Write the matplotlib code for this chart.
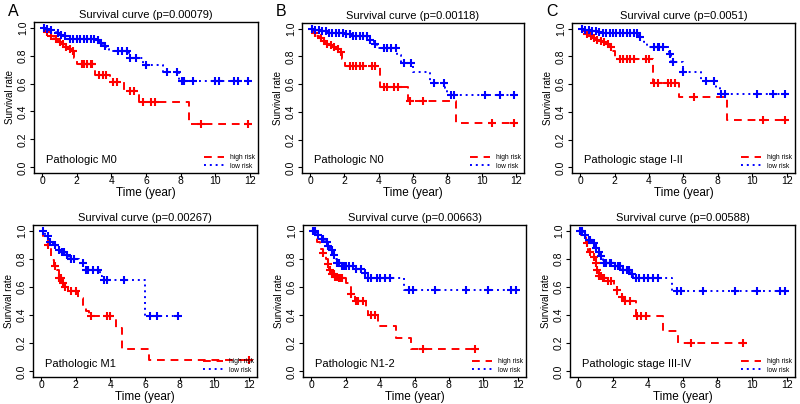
import numpy as np
import matplotlib
matplotlib.use("Agg")
import matplotlib.pyplot as plt

plt.rcParams['font.family'] = ['Liberation Sans', 'DejaVu Sans']

# ---- data: step times / survival after each step / censor times / end time ----
titles = ["Survival curve (p=0.00079)", "Survival curve (p=0.00118)", "Survival curve (p=0.0051)",
          "Survival curve (p=0.00267)", "Survival curve (p=0.00663)", "Survival curve (p=0.00588)"]
groups = ["Pathologic M0", "Pathologic N0", "Pathologic stage I-II",
          "Pathologic M1", "Pathologic N1-2", "Pathologic stage III-IV"]
letters = ["A", "B", "C", "", "", ""]

# A  M0
a_hi_t = [0, 0.1, 0.2, 0.35, 0.5, 0.7, 0.9, 1.1, 1.3, 1.5, 1.7, 1.85, 2.0, 3.05, 3.9, 4.7, 5.6, 8.5]
a_hi_s = [1.0, 0.98, 0.97, 0.96, 0.94, 0.92, 0.90, 0.88, 0.86, 0.85, 0.83, 0.78, 0.74, 0.66, 0.61, 0.55, 0.47, 0.31]
a_hi_c = [0.3, 0.5, 0.8, 1.0, 1.2, 1.4, 1.6, 1.8, 2.3, 2.4, 2.6, 2.8, 2.9, 3.3, 3.5, 3.7, 4.1, 4.3,
          5.1, 5.3, 5.8, 6.3, 6.5, 9.2, 11.9]
a_hi_end = 11.9
a_lo_t = [0, 0.2, 0.4, 0.6, 0.8, 1.0, 1.2, 1.4, 3.1, 3.3, 3.5, 3.7, 3.85, 5.0, 5.8, 7.0, 7.9]
a_lo_s = [1.0, 0.99, 0.98, 0.97, 0.96, 0.95, 0.94, 0.92, 0.91, 0.89, 0.87, 0.85, 0.83, 0.785, 0.73, 0.68, 0.62]
a_lo_c = [0.1, 0.3, 0.5, 0.9, 1.1, 1.3, 1.6, 1.8, 2.0, 2.2, 2.4, 2.6, 2.8, 3.0, 3.2, 3.4, 3.6, 4.4, 4.6,
          4.9, 5.1, 5.4, 6.0, 7.2, 7.8, 8.1, 8.2, 8.7, 10.0, 10.2, 11.1, 11.3, 11.9]
a_lo_end = 11.9

# B  N0
b_hi_t = [0, 0.1, 0.2, 0.35, 0.5, 0.7, 0.9, 1.1, 1.3, 1.5, 1.7, 1.85, 2.05, 4.1, 5.7, 8.5]
b_hi_s = [1.0, 0.98, 0.97, 0.95, 0.93, 0.91, 0.89, 0.88, 0.87, 0.85, 0.83, 0.78, 0.73, 0.58, 0.48, 0.32]
b_hi_c = [0.3, 0.6, 0.8, 1.0, 1.2, 1.4, 1.6, 1.8, 2.3, 2.5, 2.7, 2.9, 3.1, 3.6, 3.8, 4.3, 4.5,
          4.9, 5.1, 5.8, 6.6, 10.6, 11.9]
b_hi_end = 11.9
b_lo_t = [0, 0.3, 0.6, 1.0, 2.0, 2.5, 3.4, 3.7, 3.9, 5.05, 5.3, 6.0, 7.0, 7.85, 8.0]
b_lo_s = [1.0, 0.99, 0.98, 0.97, 0.96, 0.95, 0.92, 0.89, 0.86, 0.81, 0.75, 0.69, 0.61, 0.57, 0.52]
b_lo_c = [0.1, 0.3, 0.5, 0.7, 0.9, 1.1, 1.3, 1.5, 1.7, 1.9, 2.1, 2.3, 2.5, 2.7, 2.9, 3.1, 3.3, 3.5,
          3.8, 4.3, 4.5, 4.7, 5.0, 5.5, 5.9, 7.2, 7.8, 8.2, 8.4, 10.2, 11.1, 11.9]
b_lo_end = 11.9

# C  stage I-II
c_hi_t = [0, 0.15, 0.3, 0.5, 0.7, 0.9, 1.1, 1.3, 1.5, 1.7, 1.85, 2.0, 4.2, 5.75, 8.55]
c_hi_s = [1.0, 0.98, 0.96, 0.95, 0.93, 0.92, 0.91, 0.90, 0.89, 0.87, 0.84, 0.78, 0.61, 0.51, 0.34]
c_hi_c = [0.4, 0.6, 0.8, 1.0, 1.2, 1.4, 1.6, 1.8, 2.3, 2.5, 2.7, 2.9, 3.1, 3.8, 4.0, 4.3, 4.5,
          5.1, 5.3, 5.5, 6.6, 10.6, 11.9]
c_hi_end = 11.9
c_lo_t = [0, 0.3, 0.6, 1.0, 1.3, 3.4, 3.7, 3.9, 5.15, 5.3, 6.0, 7.0, 7.9, 8.1]
c_lo_s = [1.0, 0.99, 0.98, 0.975, 0.97, 0.94, 0.90, 0.87, 0.82, 0.76, 0.69, 0.62, 0.57, 0.53]
c_lo_c = [0.1, 0.3, 0.5, 0.7, 0.9, 1.1, 1.3, 1.5, 1.7, 1.9, 2.1, 2.3, 2.5, 2.7, 2.9, 3.1, 3.3, 3.5,
          4.3, 4.5, 4.6, 4.8, 5.2, 5.4, 6.0, 7.3, 7.8, 8.2, 8.4, 10.3, 11.2, 11.9]
c_lo_end = 11.9

# D  M1
d_hi_t = [0, 0.1, 0.4, 0.55, 0.75, 0.9, 1.05, 1.2, 1.3, 1.55, 2.15, 2.4, 2.6, 2.75, 4.3, 4.65, 6.25]
d_hi_s = [1.0, 0.96, 0.90, 0.79, 0.75, 0.72, 0.66, 0.63, 0.60, 0.57, 0.52, 0.47, 0.43, 0.39, 0.31, 0.16, 0.08]
d_hi_c = [0.4, 0.8, 1.05, 1.15, 1.25, 1.4, 1.7, 2.0, 2.85, 3.8, 4.0, 12.0]
d_hi_end = 12.0
d_lo_t = [0, 0.2, 0.5, 0.7, 0.9, 1.0, 1.2, 1.4, 1.6, 2.2, 2.6, 3.4, 3.5, 6.0]
d_lo_s = [1.0, 0.96, 0.92, 0.90, 0.88, 0.86, 0.85, 0.83, 0.80, 0.77, 0.72, 0.68, 0.65, 0.39]
d_lo_c = [0.1, 0.4, 0.5, 0.8, 1.0, 1.2, 1.3, 1.5, 1.7, 1.9, 2.4, 2.6, 2.7, 3.0, 3.3, 3.6, 3.8,
          4.8, 6.3, 6.7, 7.9]
d_lo_end = 7.9

# E  N1-2
e_hi_t = [0, 0.2, 0.35, 0.5, 0.7, 0.85, 0.95, 1.05, 1.2, 1.4, 1.6, 2.0, 2.2, 2.3, 2.55, 3.2, 3.3,
          3.9, 4.9, 5.8]
e_hi_s = [1.0, 0.97, 0.92, 0.87, 0.84, 0.80, 0.76, 0.72, 0.69, 0.67, 0.66, 0.63, 0.60, 0.55, 0.50,
          0.43, 0.40, 0.32, 0.24, 0.16]
e_hi_c = [0.7, 1.0, 1.1, 1.2, 1.3, 1.4, 1.5, 1.6, 1.7, 1.8, 2.3, 2.6, 2.7, 3.0, 3.5, 3.7, 6.5, 9.5]
e_hi_end = 9.5
e_lo_t = [0, 0.3, 0.5, 0.8, 1.0, 1.1, 1.3, 1.4, 1.5, 1.7, 2.5, 3.1, 3.15, 3.3, 5.4]
e_lo_s = [1.0, 0.97, 0.94, 0.92, 0.89, 0.86, 0.83, 0.80, 0.77, 0.75, 0.73, 0.70, 0.67, 0.66, 0.58]
e_lo_c = [0.1, 0.2, 0.4, 0.6, 0.7, 0.9, 1.0, 1.2, 1.3, 1.5, 1.6, 1.8, 1.9, 2.0, 2.2, 2.4, 2.6,
          2.9, 3.1, 3.3, 3.5, 3.8, 4.0, 4.3, 4.6, 5.7, 5.9, 7.2, 9.0, 10.3, 11.6, 11.9]
e_lo_end = 11.9

# F  stage III-IV
f_hi_t = [0, 0.15, 0.45, 0.55, 0.85, 1.0, 1.1, 1.2, 1.4, 1.6, 2.05, 2.25, 2.6, 3.3, 4.85, 5.75]
f_hi_s = [1.0, 0.96, 0.91, 0.85, 0.81, 0.77, 0.72, 0.68, 0.66, 0.64, 0.58, 0.53, 0.50, 0.39, 0.29, 0.20]
f_hi_c = [0.5, 0.7, 0.9, 1.0, 1.1, 1.2, 1.3, 1.4, 1.5, 1.7, 1.9, 2.2, 2.5, 2.7, 3.0, 3.4, 3.6, 3.9,
          6.5, 9.5]
f_hi_end = 9.5
f_lo_t = [0, 0.3, 0.5, 0.8, 1.0, 1.1, 1.3, 1.4, 1.5, 2.0, 2.5, 3.05, 3.15, 5.4]
f_lo_s = [1.0, 0.97, 0.93, 0.91, 0.88, 0.85, 0.82, 0.79, 0.77, 0.75, 0.72, 0.69, 0.66, 0.57]
f_lo_c = [0.1, 0.2, 0.4, 0.6, 0.7, 0.9, 1.0, 1.2, 1.3, 1.5, 1.6, 1.8, 1.9, 2.1, 2.3, 2.4, 2.6,
          2.8, 2.9, 3.1, 3.3, 3.5, 3.8, 4.0, 4.3, 4.6, 5.7, 5.9, 7.2, 9.0, 10.3, 11.6, 11.9]
f_lo_end = 12.0

panels = [
    (a_hi_t, a_hi_s, a_hi_c, a_hi_end, a_lo_t, a_lo_s, a_lo_c, a_lo_end),
    (b_hi_t, b_hi_s, b_hi_c, b_hi_end, b_lo_t, b_lo_s, b_lo_c, b_lo_end),
    (c_hi_t, c_hi_s, c_hi_c, c_hi_end, c_lo_t, c_lo_s, c_lo_c, c_lo_end),
    (d_hi_t, d_hi_s, d_hi_c, d_hi_end, d_lo_t, d_lo_s, d_lo_c, d_lo_end),
    (e_hi_t, e_hi_s, e_hi_c, e_hi_end, e_lo_t, e_lo_s, e_lo_c, e_lo_end),
    (f_hi_t, f_hi_s, f_hi_c, f_hi_end, f_lo_t, f_lo_s, f_lo_c, f_lo_end),
]

# axes boxes in pixels: left, top, right, bottom
boxes = [(34, 22, 258, 173), (302, 23, 524, 173), (572, 23, 795, 173),
         (33, 225, 257, 377), (303, 225, 526, 377), (570, 225, 795, 377)]
W, H = 800, 404
red, blue = '#ff0000', '#0000ff'


def surv_at(times, surv, x):
    i = np.searchsorted(times, x, side='right') - 1
    return np.array(surv)[i]


def km(ax, t, s, c, end, color, ls, label):
    tt = list(t) + [end]
    ss = list(s) + [s[-1]]
    ax.step(tt, ss, where='post', color=color, ls=ls, lw=1.4, label=label)
    ax.plot(c, surv_at(t, s, np.array(c)), '+', color=color, ms=5.5, mew=1.5)


fig = plt.figure(figsize=(8, 4.04), dpi=100)
for k, (p, box) in enumerate(zip(panels, boxes)):
    l, tp, r, b = box
    ax = fig.add_axes([l / W, 1 - b / H, (r - l) / W, (b - tp) / H])
    km(ax, p[0], p[1], p[2], p[3], red, (0, (4, 3)), 'high risk')
    km(ax, p[4], p[5], p[6], p[7], blue, (0, (1, 2)), 'low risk')
    ax.set_xlim(-0.48, 12.48)
    ax.set_ylim(-0.04, 1.04)
    ax.set_xticks(range(0, 13, 2))
    ax.set_yticks([0, 0.2, 0.4, 0.6, 0.8, 1.0])
    ax.set_yticklabels(['0.0', '0.2', '0.4', '0.6', '0.8', '1.0'], rotation=90, va='center')
    ax.tick_params(labelsize=7.5, length=3)
    ax.tick_params(axis='x', pad=-0.5)
    ax.tick_params(axis='y', pad=1.5)
    ax.set_title(titles[k], fontsize=8, pad=3)
    ax.set_xlabel('Time (year)', fontsize=8.5, labelpad=0.5)
    ax.set_ylabel('Survival rate', fontsize=7, labelpad=2)
    ax.text(0.2, 0.02, groups[k], fontsize=8, va='bottom')
    ax.legend(loc='lower right', fontsize=4.8, frameon=False, handlelength=3,
              borderaxespad=0.1, labelspacing=0.2)
    for sp in ax.spines.values():
        sp.set_linewidth(1.0)
    if letters[k]:
        fig.text((l - 26) / W, 1 - 12 / H, letters[k], fontsize=11.5, va='center')

fig.savefig('out.png', dpi=100)
